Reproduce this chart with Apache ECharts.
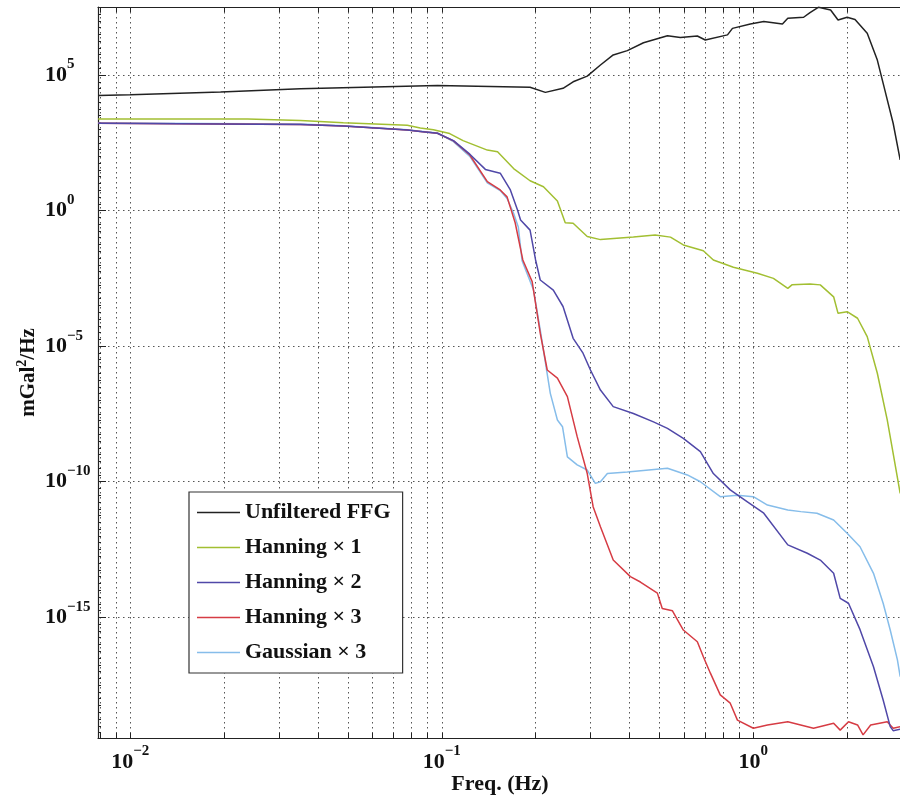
<!DOCTYPE html>
<html>
<head>
<meta charset="utf-8">
<script src="https://cdn.jsdelivr.net/npm/echarts@6/dist/echarts.min.js"></script>
<style>html,body{margin:0;padding:0;background:#fff}#c{width:900px;height:799px}</style>
</head>
<body>
<div id="c"></div>
<script>
// ---- data (frequency in Hz, PSD in mGal^2/Hz) ----
const seriesNames = ['Unfiltered FFG', 'Hanning \u00d7 1', 'Hanning \u00d7 2', 'Hanning \u00d7 3', 'Gaussian \u00d7 3'];

const ffgFreq = [0.00789,0.0100,0.0195,0.0352,0.0968,0.192,0.215,0.245,0.264,0.293,0.323,0.355,0.394,0.444,0.530,0.583,0.661,0.701,0.826,0.857,0.978,1.08,1.24,1.29,1.45,1.52,1.62,1.77,1.87,2.00,2.12,2.32,2.50,2.61,2.81,2.96];
const ffgPsd  = [1.74e4,1.86e4,2.34e4,3.09e4,4.07e4,3.55e4,2.29e4,3.24e4,5.62e4,9.12e4,2.34e5,5.50e5,7.94e5,1.55e6,2.82e6,2.40e6,2.75e6,1.95e6,3.02e6,5.25e6,7.59e6,9.33e6,7.59e6,1.23e7,1.35e7,2.0e7,3.16e7,2.51e7,1.07e7,1.35e7,1.12e7,3.47e6,3.55e5,4.90e4,1.66e3,74];

const hann1Freq = [0.00789,0.0238,0.0352,0.0483,0.0775,0.0853,0.0940,0.106,0.117,0.140,0.151,0.170,0.192,0.212,0.235,0.249,0.264,0.293,0.323,0.412,0.484,0.542,0.596,0.691,0.744,0.863,1.03,1.16,1.29,1.33,1.52,1.64,1.81,1.87,2.00,2.16,2.32,2.50,2.69,2.81,2.96];
const hann1Psd  = [2.40e3,2.40e3,2.09e3,1.74e3,1.41e3,1.12e3,955,692,380,170,148,35.5,12.6,7.6,2.24,0.355,0.339,0.110,0.085,0.105,0.126,0.105,0.054,0.033,0.0151,8.1e-3,4.9e-3,3.16e-3,1.35e-3,1.82e-3,1.95e-3,1.82e-3,6.6e-4,1.62e-4,1.86e-4,1.07e-4,2.24e-5,1.0e-6,1.9e-8,1.12e-9,3.7e-11];

const hann2Freq = [0.00789,0.0352,0.0483,0.0775,0.0853,0.0968,0.109,0.123,0.138,0.154,0.166,0.175,0.179,0.192,0.200,0.207,0.228,0.245,0.264,0.284,0.300,0.323,0.355,0.412,0.478,0.530,0.596,0.676,0.744,0.843,0.957,1.08,1.29,1.49,1.64,1.81,1.90,2.02,2.20,2.43,2.61,2.75,2.81,2.96];
const hann2Psd  = [1.66e3,1.51e3,1.32e3,933,832,708,380,120,33,24,5.75,1.05,0.45,0.19,0.0151,2.75e-3,1.17e-3,2.9e-4,1.95e-5,5.5e-6,1.32e-6,2.4e-7,5.9e-8,3.3e-8,1.62e-8,9.3e-9,4.0e-9,1.29e-9,2.0e-10,5.0e-11,1.82e-11,6.9e-12,4.7e-13,2.3e-13,1.29e-13,4.2e-14,5.0e-15,3.3e-15,3.5e-16,1.51e-17,8.9e-19,9.3e-20,6.6e-20,7.4e-20];

const hann3Freq = [0.00789,0.0352,0.0483,0.0775,0.0853,0.0968,0.109,0.123,0.140,0.154,0.162,0.172,0.182,0.195,0.207,0.218,0.235,0.253,0.272,0.293,0.306,0.323,0.355,0.403,0.434,0.492,0.510,0.550,0.596,0.661,0.691,0.728,0.783,0.843,0.889,1.00,1.11,1.29,1.56,1.81,1.90,2.02,2.16,2.25,2.38,2.69,2.81,2.96];
const hann3Psd  = [1.66e3,1.51e3,1.32e3,933,832,708,370,112,11.7,5.75,3.2,0.355,0.0151,2.4e-3,3.0e-5,1.32e-6,6.6e-7,1.38e-7,4.6e-9,2.0e-10,1.2e-11,2.2e-12,1.29e-13,3.16e-14,2.0e-14,7.8e-15,2.1e-15,1.74e-15,3.4e-16,1.26e-16,3.5e-17,8.7e-18,1.38e-18,6.8e-19,1.62e-19,8.1e-20,1.07e-19,1.41e-19,8.1e-20,1.23e-19,6.9e-20,1.41e-19,1.07e-19,4.6e-20,1.07e-19,1.41e-19,8.1e-20,9.3e-20];

const gauss3Freq = [0.00789,0.0352,0.0483,0.0775,0.0853,0.0968,0.109,0.123,0.140,0.154,0.162,0.170,0.176,0.181,0.197,0.207,0.223,0.235,0.244,0.253,0.272,0.293,0.311,0.323,0.340,0.394,0.530,0.614,0.676,0.783,0.889,1.00,1.11,1.29,1.42,1.60,1.81,2.00,2.20,2.43,2.61,2.75,2.90,2.96];
const gauss3Psd  = [1.70e3,1.55e3,1.35e3,955,850,724,350,100,10.5,5.5,2.8,0.8,0.25,0.0141,1.17e-3,4.0e-5,1.82e-7,1.9e-8,1.07e-8,8.3e-10,4.2e-10,2.7e-10,8.7e-11,1.0e-10,2.0e-10,2.3e-10,3.16e-10,1.78e-10,1.0e-10,2.8e-11,3.2e-11,2.8e-11,1.38e-11,9.1e-12,7.9e-12,6.9e-12,3.9e-12,1.26e-12,4.0e-13,4.2e-14,3.3e-15,3.4e-16,2.7e-17,6.5e-18];

// axis ranges / tick labels (in Hz and mGal^2/Hz)
const xRange = [0.00788, 3];
const yRange = [3.54e-20, 3.22e7];
const xLabelDecades = [-2, -1, 0];
const yLabelDecades = [-15, -10, -5, 0, 5];

// ---- build ----
const L = Math.log10;
const XMIN = L(xRange[0]), XMAX = L(xRange[1]);
const YMIN = L(yRange[0]), YMAX = L(yRange[1]);
const serif = '"Liberation Serif", "DejaVu Serif", serif';
const ink = '#111';

function pairs(f, p) { return f.map((x, i) => [L(x), L(p[i])]); }

const xTicks = [];
for (let n = -3; n <= 0; n++) for (let k = 1; k <= 9; k++) {
  const v = n + L(k);
  if (v >= XMIN - 1e-9 && v <= XMAX + 1e-9) xTicks.push(v);
}
const yMinor = [];
for (let v = Math.ceil(YMIN * 4) / 4; v <= YMAX; v += 0.25) yMinor.push(+v.toFixed(2));

function pow10(v) {
  const e = Math.round(v);
  return '{b|10}{s|' + (e < 0 ? '\u2212' + (-e) : e) + '}';
}
const richPow = {
  b: { fontFamily: serif, fontWeight: 'bold', fontSize: 22, color: ink, lineHeight: 36, verticalAlign: 'middle' },
  s: { fontFamily: serif, fontWeight: 'bold', fontSize: 15, color: ink, lineHeight: 15, verticalAlign: 'top' }
};

const grid = { left: 98, right: -2, top: 7, bottom: 61, containLabel: false, outerBoundsMode: 'none' };
const dotted = { show: true, lineStyle: { color: '#555', width: 1, type: [1.5, 3.5] } };
const axisLine = { show: true, onZero: false, lineStyle: { color: '#222', width: 1.2 } };

const colors = ['#222222', '#a2bf32', '#5048a8', '#d63c44', '#86bdea'];
const dataSets = [
  pairs(ffgFreq, ffgPsd),
  pairs(hann1Freq, hann1Psd),
  pairs(hann2Freq, hann2Psd),
  pairs(hann3Freq, hann3Psd),
  pairs(gauss3Freq, gauss3Psd)
];
const drawOrder = [0, 1, 4, 3, 2];
const series = drawOrder.map(i => ({
  name: seriesNames[i],
  type: 'line',
  data: dataSets[i],
  symbol: 'none',
  showSymbol: false,
  clip: true,
  lineStyle: { color: colors[i], width: 1.5 },
  itemStyle: { color: colors[i] },
  emphasis: { disabled: true }
}));

const option = {
  animation: false,
  backgroundColor: '#fff',
  grid: grid,
  xAxis: [
    {
      type: 'value', position: 'bottom', min: XMIN, max: XMAX,
      axisLine: axisLine,
      axisTick: { show: true, inside: true, length: 5, customValues: xTicks, lineStyle: { color: '#222' } },
      splitLine: dotted,
      axisLabel: { show: true, customValues: xLabelDecades, formatter: pow10, rich: richPow, margin: 6 },
      name: 'Freq. (Hz)', nameLocation: 'middle', nameGap: 35, nameMoveOverlap: false,
      nameTextStyle: { fontFamily: serif, fontWeight: 'bold', fontSize: 22, color: ink }
    },
    {
      type: 'value', position: 'top', min: XMIN, max: XMAX,
      axisLine: axisLine,
      axisTick: { show: true, inside: true, length: 5, customValues: xTicks, lineStyle: { color: '#222' } },
      splitLine: { show: false },
      axisLabel: { show: false }
    }
  ],
  yAxis: [
    {
      type: 'value', position: 'left', min: YMIN, max: YMAX,
      axisLine: axisLine,
      axisTick: { show: true, inside: true, length: 3, customValues: yMinor, lineStyle: { color: '#222' } },
      splitLine: { show: false },
      axisLabel: { show: true, customValues: yLabelDecades, formatter: pow10, rich: richPow, margin: 53, align: 'left' },
      name: '{b|mGal}{s|2}{b|/Hz}', nameLocation: 'middle', nameGap: 55, nameMoveOverlap: false,
      nameTextStyle: {
        rich: {
          b: { fontFamily: serif, fontWeight: 'bold', fontSize: 21, color: ink, lineHeight: 28, verticalAlign: 'middle' },
          s: { fontFamily: serif, fontWeight: 'bold', fontSize: 14, color: ink, lineHeight: 14, verticalAlign: 'top' }
        }
      }
    },
    {
      type: 'value', position: 'left', min: YMIN, max: YMAX,
      axisLine: { show: false, onZero: false },
      axisTick: { show: true, inside: true, length: 8, customValues: yLabelDecades, lineStyle: { color: '#222' } },
      splitLine: dotted,
      axisLabel: { show: false }
    }
  ],
  legend: {
    data: seriesNames.map(n => ({ name: n, icon: 'rect' })),
    orient: 'vertical',
    left: 189, top: 492,
    padding: [8, 12, 8, 8],
    itemGap: 10, itemWidth: 43, itemHeight: 1.5,
    backgroundColor: '#fff',
    borderColor: '#333', borderWidth: 1.2, borderRadius: 0,
    selectedMode: false,
    textStyle: { fontFamily: serif, fontWeight: 'bold', fontSize: 22, color: ink, lineHeight: 25 }
  },
  series: series
};

const chart = echarts.init(document.getElementById('c'), null, { renderer: 'canvas' });
chart.setOption(option);
</script>
</body>
</html>
